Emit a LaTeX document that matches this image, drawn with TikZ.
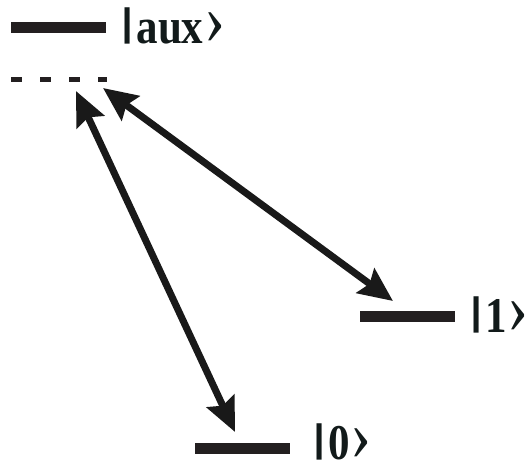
\documentclass[tikz,border=0pt]{standalone}
\usepackage{fontspec}
\setmainfont{Liberation Serif}
\usetikzlibrary{arrows.meta}
\definecolor{barc}{HTML}{231F20}
\definecolor{txtc}{HTML}{121A1A}
\newcommand{\ketbar}{\raisebox{7.5pt}{\scalebox{1.7}[0.8]{|}}\kern1.5pt}
\newcommand{\ketang}{\kern1pt{\fontsize{74}{74}\selectfont\mdseries ›}}
\tikzset{
  level/.style={line width=11pt, draw=barc},
  dlevel/.style={line width=5pt, draw=barc, dash pattern=on 11pt off 18pt},
  trans/.style={line width=7pt, draw=black!90, {Stealth[length=34pt,width=30pt,inset=5pt]}-{Stealth[length=34pt,width=30pt,inset=5pt]}},
  ket/.style={inner sep=0pt, text=txtc, font=\fontsize{50}{50}\selectfont\bfseries, xscale=0.86, anchor=base west}
}
\begin{document}
\begin{tikzpicture}[x=1pt,y=-1pt]
\useasboundingbox (0,0) rectangle (528,469);
% levels
\coordinate (auxL) at (11,27.5);
\coordinate (auxR) at (106,27.5);
\draw[level] (auxL) -- (auxR);
\coordinate (virtL) at (11,79.5);
\coordinate (virtR) at (107,79.5);
\draw[dlevel] (virtL) -- (virtR);
\coordinate (oneL) at (360,316);
\coordinate (oneR) at (455,316);
\draw[level] (oneL) -- (oneR);
\coordinate (zeroL) at (195,448.5);
\coordinate (zeroR) at (290,448.5);
\draw[level] (zeroL) -- (zeroR);
% labels
\node[ket] (auxlabel) at (119,43) {\ketbar aux\ketang};
\node[ket] (onelabel) at (468,332) {\ketbar 1\ketang};
\node[ket] (zerolabel) at (311,459) {\ketbar 0\ketang};
% transitions
\coordinate (t0top) at (76,91);
\coordinate (t0bot) at (235,432);
\coordinate (t1top) at (103,88);
\coordinate (t1bot) at (393,301);
\draw[trans] (t0top) -- (t0bot);
\draw[trans] (t1top) -- (t1bot);
\end{tikzpicture}
\end{document}
